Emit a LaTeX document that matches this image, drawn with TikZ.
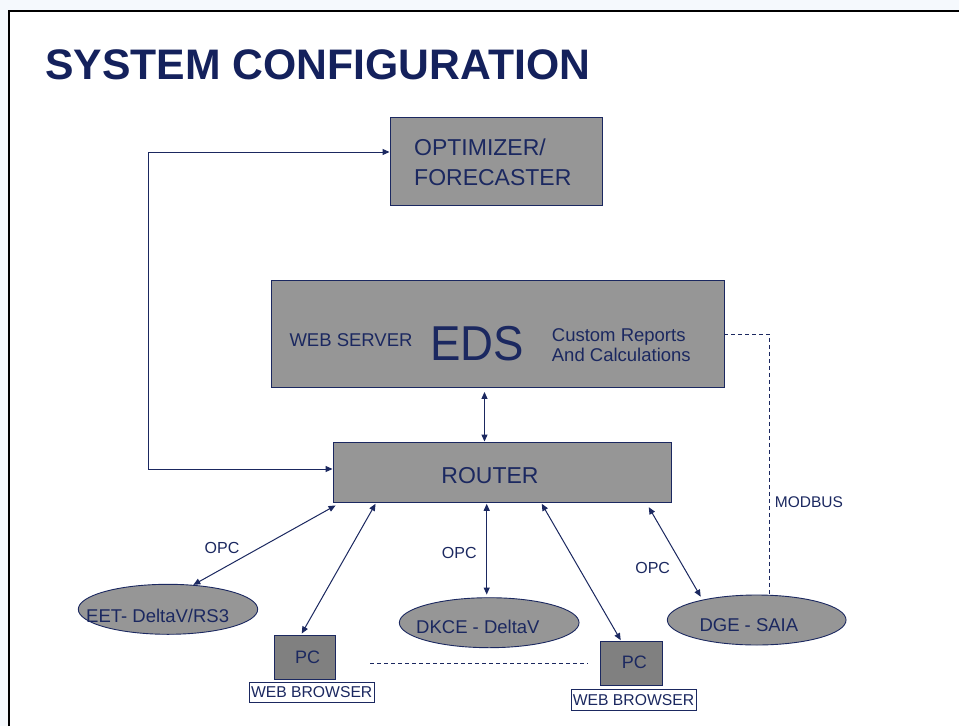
\documentclass[tikz,border=0pt]{standalone}
\usepackage{fontspec}
\setmainfont{Liberation Sans}
\usetikzlibrary{shapes.geometric,arrows.meta,calc}

\definecolor{navy}{RGB}{27,40,96}
\definecolor{titlenavy}{RGB}{20,33,92}
\definecolor{boxgray}{RGB}{150,150,150}
\definecolor{pcgray}{RGB}{128,128,128}
\definecolor{paleblue}{RGB}{245,249,253}

\newcommand\fsz[1]{\fontsize{#1pt}{#1pt}\selectfont}

\tikzset{
  panel/.style={rectangle, draw=navy, line width=0.9pt, fill=boxgray, inner sep=0pt},
  oval/.style={ellipse, draw=navy, line width=0.9pt, fill=boxgray, inner sep=0pt},
  pcbox/.style={rectangle, draw=navy, line width=0.9pt, fill=pcgray, inner sep=0pt},
  tag/.style={rectangle, draw=navy, line width=0.6pt, fill=white, inner sep=0pt,
              text=navy, font=\fsz{15.7}},
  lbl/.style={text=navy, inner sep=0pt},
  conn/.style={draw=navy, line width=1pt, >={Triangle[length=7pt,width=6pt]}, <->},
  link/.style={draw=navy, line width=0.8pt, dash pattern=on 4pt off 3pt},
}

\begin{document}
\begin{tikzpicture}[x=1pt,y=-1pt]
  \useasboundingbox (0,0) rectangle (959,726);

  % slide frame
  \fill[paleblue] (0,0) rectangle (959,726);
  \fill[white] (9,11) rectangle (959,726);
  \draw[black, line width=2pt] (9,726) -- (9,11) -- (959,11);

  % title
  \node[anchor=base west, inner sep=0pt, text=titlenavy, font=\fsz{42.7}\bfseries]
    (title) at (45,79.3) {SYSTEM CONFIGURATION};

  % main blocks
  \node[panel, minimum width=212pt, minimum height=88pt] (opt) at (496,161) {};
  \node[lbl, anchor=base west, font=\fsz{23}] (optA) at (414,155.7) {OPTIMIZER/};
  \node[lbl, anchor=base west, font=\fsz{23}] (optB) at (414,185) {FORECASTER};

  \node[panel, minimum width=453pt, minimum height=107pt] (eds) at (497.5,333.5) {};
  \node[lbl, anchor=base west, font=\fsz{18.5}] (web) at (289.3,346.7) {WEB SERVER};
  \node[lbl, anchor=base west, font=\fsz{49}, xscale=0.93] (edsname) at (430,360.7) {EDS};
  \node[lbl, anchor=base west, font=\fsz{18.5}] (repA) at (551.7,341) {Custom Reports};
  \node[lbl, anchor=base west, font=\fsz{18.5}] (repB) at (551.7,361.7) {And Calculations};

  \node[panel, minimum width=338pt, minimum height=60pt] (router) at (502,472) {};
  \node[lbl, anchor=base, font=\fsz{23}] (routername) at (490,483.3) {ROUTER};

  % plant systems
  \node[oval, minimum width=179.4pt, minimum height=50pt] (eet) at (168,609.3) {};
  \node[lbl, anchor=base west, font=\fsz{18.5}] (eetname) at (86,622.3) {EET- DeltaV/RS3};

  \node[oval, minimum width=179.7pt, minimum height=50pt] (dkce) at (489.2,622.7) {};
  \node[lbl, anchor=base west, font=\fsz{18.5}] (dkcename) at (416,633.3) {DKCE - DeltaV};

  \node[oval, minimum width=178.7pt, minimum height=50pt] (dge) at (756.7,620) {};
  \node[lbl, anchor=base west, font=\fsz{18.5}] (dgename) at (699.3,631.7) {DGE - SAIA};

  % client PCs
  \node[pcbox, minimum width=61.4pt, minimum height=44pt] (pc1) at (305,657.3) {};
  \node[lbl, anchor=base west, font=\fsz{18}] (pc1name) at (295,663.3) {PC};
  \node[tag, minimum width=124.7pt, minimum height=20pt] (wb1) at (311.7,692.3) {WEB BROWSER};

  \node[pcbox, minimum width=61.3pt, minimum height=44.7pt] (pc2) at (631.3,663.3) {};
  \node[lbl, anchor=base west, font=\fsz{18}] (pc2name) at (621.7,668.3) {PC};
  \node[tag, minimum width=125pt, minimum height=20.7pt] (wb2) at (633.5,699.7) {WEB BROWSER};

  % feedback loop between router and optimizer
  \coordinate (fbTop) at (148,152);
  \coordinate (fbBot) at (148,469);
  \draw[conn] ($(opt.west)+(0,-9)$) -- (fbTop) -- (fbBot) -- ($(router.west)+(0,-3)$);

  % EDS to router
  \draw[conn] ($(eds.south)+(-13,4.5)$) -- ($(router.north)+(-17.5,0)$);

  % router to field systems and clients
  \draw[conn] ($(router.south west)+(3,3)$) -- (eet.44);
  \draw[conn] ($(router.south west)+(43,1.3)$) -- ($(pc1.north)+(-3.3,-1.3)$);
  \draw[conn] ($(router.south)+(-15.3,1.3)$) -- ($(dkce.north)+(-2.5,-2.7)$);
  \draw[conn] ($(router.south)+(39.7,1.3)$) -- ($(pc2.north)+(-10.6,-0.3)$);
  \draw[conn] ($(router.south east)+(-22.7,4.7)$) -- ($(dge.center)+(-56,-23.3)$);

  \node[lbl, font=\fsz{16}] (opc1) at (222,548) {OPC};
  \node[lbl, font=\fsz{16}] (opc2) at (459.3,552.5) {OPC};
  \node[lbl, font=\fsz{16}] (opc3) at (652.7,567.5) {OPC};

  % Modbus link from EDS to DGE
  \draw[link] ($(eds.east)+(0,0.5)$) -| ($(dge.north)+(13,0)$);
  \node[lbl, font=\fsz{15.5}] (modbus) at (809,502.5) {MODBUS};

  % LAN between the client PCs
  \coordinate (lanA) at (370,663.5);
  \coordinate (lanB) at (588,663.5);
  \draw[link] (lanA) -- (lanB);
\end{tikzpicture}
\end{document}
